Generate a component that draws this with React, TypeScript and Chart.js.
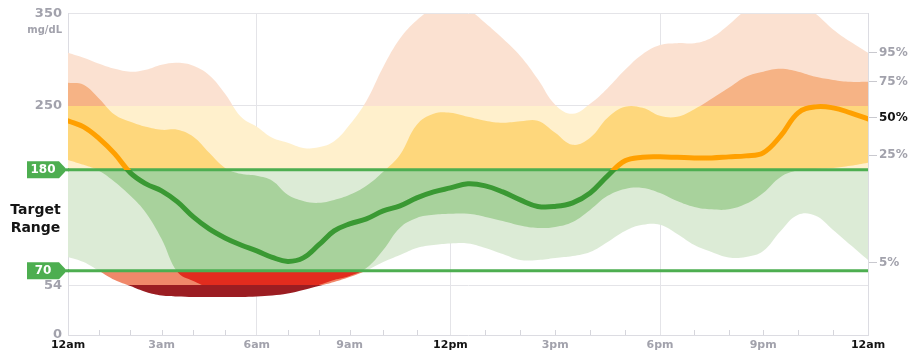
import React, { useEffect, useRef } from 'react';
import { Chart, LinearScale, registerables } from 'chart.js';

// ---------- data ----------
const hours = [0, 0.5, 1, 1.5, 2, 2.5, 3, 3.5, 4, 4.5, 5, 5.5, 6, 6.5, 7, 7.5, 8, 8.5, 9, 9.5, 10, 10.5, 11, 11.5, 12,
  12.5, 13, 13.5, 14, 14.5, 15, 15.5, 16, 16.5, 17, 17.5, 18, 18.5, 19, 19.5, 20, 20.5, 21, 21.5, 22, 22.5, 23, 23.5, 24];

const p95 = [307.5, 302, 295.5, 290, 286.8, 289, 294.4, 296.6, 293.3, 283, 262.8, 237.7, 226.8, 214.8, 209.4, 203.9, 204.5,
  211, 229, 255, 292, 323, 343, 356, 362, 355, 340, 323, 304, 279, 251, 241, 252, 269, 289, 306, 316, 318, 318, 324, 338,
  354, 363, 366, 362, 350, 333, 319.5, 307.5];

const p75 = [274.8, 272.6, 257.4, 239.9, 232.3, 226.8, 223.6, 223.6, 216, 198.5, 182.1, 175.6, 173.4, 168, 152.7, 146.1,
  144, 147.2, 152.7, 162.5, 177.8, 196.3, 229, 241, 242.1, 237.7, 233.4, 231.2, 232.8, 233.4, 220.3, 207.2, 214.8, 236.6,
  248.6, 247.5, 238.8, 237.7, 246, 257.4, 269.3, 281.3, 286.8, 290, 286.8, 281.3, 278, 275.9, 275.9];

const p50 = [233.4, 226.8, 214, 197.4, 176.7, 164.7, 157, 145, 128.7, 115.6, 105.8, 98.1, 91.6, 84.6, 80.2, 84, 98.1,
  113.4, 121.1, 126.5, 135.2, 140.7, 149.4, 155.9, 160.3, 164.7, 162.5, 155.9, 147.2, 140.1, 140.1, 144, 154.8, 173.4,
  189.8, 193.6, 194.1, 193.6, 193, 193, 194.1, 195.2, 198.5, 217, 242.1, 248.6, 247.5, 242.1, 235.5];

const p25 = [190.8, 185.4, 178.8, 166.8, 151.6, 133, 104.7, 68.7, 58.9, 52, 50, 49, 49, 49, 50, 51.5, 54.5, 60, 64.3, 73,
  92.7, 117, 127.6, 130.9, 132, 132, 128.7, 124.3, 119.4, 116.7, 117.8, 123.2, 136.3, 151.6, 159.2, 160.3, 154.8, 146.1,
  139.6, 136.9, 136.9, 142.9, 154.8, 172.3, 179.5, 181, 182, 184.3, 187.6];

const p5 = [85.1, 79.6, 69.8, 59.9, 53.4, 46.9, 43.1, 42, 41.4, 41.4, 41.4, 41.4, 42, 43.1, 45.2, 49, 53.4, 57.8, 63.2,
  70.3, 79.6, 87.2, 94.9, 98.1, 99.8, 99.8, 94.9, 88.3, 81.8, 81.8, 84, 86.1, 90.5, 101.4, 113.4, 120, 120, 110.1, 98.1,
  90.5, 84.5, 85.1, 91.6, 113.4, 131, 130, 114.5, 98.1, 81.8];

const targetRange = [70, 180];
const yTickValues = [0, 54, 250, 350];
const xTickHours = [0, 3, 6, 9, 12, 15, 18, 21, 24];
const xTickLabels = ['12am', '3am', '6am', '9am', '12pm', '3pm', '6pm', '9pm', '12am'];
const rightTickValues = [307.5, 276, 236.6, 196, 78.5];
const rightTickLabels = ['95%', '75%', '50%', '25%', '5%'];

// ---------- style ----------
const FONT = "'DejaVu Sans', Verdana, sans-serif";
const GRAY = '#a2a2ac';
const DARK = '#141414';
const TARGET_GREEN = '#4dae50';
const GRID = '#e4e4e8';
const BORDER = '#dcdce2';

const BAND_THRESHOLDS = [250, 180, 70, 54];
const LIGHT_COLORS = ['#fbe1d1', '#fff0cc', '#dcebd6', '#f0886a', '#9b1d22'];
const DARK_COLORS = ['#f6b385', '#fed77c', '#a8d29c', '#e22c1e', '#9b1d22'];
const LINE_THRESHOLDS = [180, 70];
const LINE_COLORS = ['#ffa000', '#3a9933', '#d32f2f'];
const TENSION = 0.4;

// hour axis of the source chart is slightly uneven; knots of its time scale
const HOUR_KNOTS = [0, 3, 6, 9, 12, 15, 18, 21, 24];
const FRAC_KNOTS = [0, 0.117, 0.236, 0.352, 0.478, 0.609, 0.74, 0.869, 1];

function piecewise(v: number, xs: number[], ys: number[]) {
  let i = 1;
  while (i < xs.length - 1 && v > xs[i]) i++;
  const x0 = xs[i - 1], x1 = xs[i];
  return ys[i - 1] + ((v - x0) / (x1 - x0)) * (ys[i] - ys[i - 1]);
}

class AgpHourScale extends LinearScale {
  static id = 'agpHour';
  static defaults = {};
  getPixelForValue(value: any) {
    if (value === null || value === undefined || isNaN(value)) return NaN;
    const f = piecewise(+value, HOUR_KNOTS, FRAC_KNOTS);
    return (this as any).left + f * (this as any).width;
  }
  getValueForPixel(pixel: number) {
    const f = (pixel - (this as any).left) / (this as any).width;
    return piecewise(f, FRAC_KNOTS, HOUR_KNOTS);
  }
}

Chart.register(...registerables, AgpHourScale as any);

function zoneGradient(chart: any, thresholds: number[], colors: string[]) {
  const { ctx, chartArea, scales } = chart;
  if (!chartArea || !scales || !scales.y) return colors[1];
  const top = chartArea.top;
  const bottom = chartArea.bottom;
  const g = ctx.createLinearGradient(0, top, 0, bottom);
  g.addColorStop(0, colors[0]);
  thresholds.forEach((t, i) => {
    let f = (scales.y.getPixelForValue(t) - top) / (bottom - top);
    f = Math.max(0, Math.min(1, f));
    g.addColorStop(f, colors[i]);
    g.addColorStop(f, colors[i + 1]);
  });
  g.addColorStop(1, colors[colors.length - 1]);
  return g;
}

const pts = (vals: number[]) => vals.map((y, i) => ({ x: hours[i], y }));

const decorPlugin = {
  id: 'agpDecor',
  afterDraw(chart: any) {
    const { ctx, chartArea, scales } = chart;
    const y = scales.y;
    const x = scales.x;
    ctx.save();
    // minor hour ticks (inward)
    ctx.strokeStyle = '#d6d6dc';
    ctx.lineWidth = 1;
    for (let h = 1; h < 24; h++) {
      if (h % 6 === 0) continue;
      const px = Math.round(x.getPixelForValue(h)) + 0.5;
      ctx.beginPath();
      ctx.moveTo(px, chartArea.bottom - 5);
      ctx.lineTo(px, chartArea.bottom);
      ctx.stroke();
    }
    // target range tags
    targetRange.forEach((v) => {
      const py = y.getPixelForValue(v);
      ctx.fillStyle = TARGET_GREEN;
      ctx.beginPath();
      ctx.moveTo(27, py - 8.5);
      ctx.lineTo(59, py - 8.5);
      ctx.lineTo(67, py);
      ctx.lineTo(59, py + 8.5);
      ctx.lineTo(27, py + 8.5);
      ctx.closePath();
      ctx.fill();
      ctx.fillRect(66, py - 1.5, chartArea.left - 66 + 1, 3);
      ctx.fillStyle = '#ffffff';
      ctx.font = `bold 12px ${FONT}`;
      ctx.textAlign = 'center';
      ctx.textBaseline = 'middle';
      ctx.fillText(String(v), 43, py + 0.5);
    });
    // "Target Range"
    const midY = (y.getPixelForValue(targetRange[0]) + y.getPixelForValue(targetRange[1])) / 2;
    ctx.fillStyle = DARK;
    ctx.font = `bold 14px ${FONT}`;
    ctx.textAlign = 'center';
    ctx.textBaseline = 'alphabetic';
    ctx.fillText('Target', 35.5, midY - 6);
    ctx.fillText('Range', 35.5, midY + 12);
    // unit
    ctx.fillStyle = GRAY;
    ctx.font = `bold 10px ${FONT}`;
    ctx.textAlign = 'right';
    ctx.textBaseline = 'middle';
    ctx.fillText('mg/dL', 62, y.getPixelForValue(350) + 16.5);
    ctx.restore();
  },
};

export default function App() {
  const ref = useRef<HTMLCanvasElement | null>(null);

  useEffect(() => {
    if (!ref.current) return;
    const noPoint = { pointRadius: 0, pointHoverRadius: 0, tension: TENSION };
    const chart = new Chart(ref.current, {
      type: 'line',
      data: {
        datasets: [
          {
            label: 'Median',
            data: pts(p50),
            borderColor: (c: any) => zoneGradient(c.chart, LINE_THRESHOLDS, LINE_COLORS),
            borderWidth: 5,
            borderCapStyle: 'round',
            borderJoinStyle: 'round',
            fill: false,
            ...noPoint,
          },
          {
            label: 'High target',
            data: [{ x: 0, y: targetRange[1] }, { x: 24, y: targetRange[1] }],
            borderColor: TARGET_GREEN,
            borderWidth: 3,
            fill: false,
            ...noPoint,
          },
          {
            label: 'Low target',
            data: [{ x: 0, y: targetRange[0] }, { x: 24, y: targetRange[0] }],
            borderColor: TARGET_GREEN,
            borderWidth: 3,
            fill: false,
            ...noPoint,
          },
          {
            label: '75%',
            data: pts(p75),
            borderWidth: 0,
            borderColor: 'rgba(0,0,0,0)',
            backgroundColor: (c: any) => zoneGradient(c.chart, BAND_THRESHOLDS, DARK_COLORS),
            fill: '+1',
            ...noPoint,
          },
          {
            label: '25%',
            data: pts(p25),
            borderWidth: 0,
            borderColor: 'rgba(0,0,0,0)',
            fill: false,
            ...noPoint,
          },
          {
            label: '95%',
            data: pts(p95),
            borderWidth: 0,
            borderColor: 'rgba(0,0,0,0)',
            backgroundColor: (c: any) => zoneGradient(c.chart, BAND_THRESHOLDS, LIGHT_COLORS),
            fill: '+1',
            ...noPoint,
          },
          {
            label: '5%',
            data: pts(p5),
            borderWidth: 0,
            borderColor: 'rgba(0,0,0,0)',
            fill: false,
            ...noPoint,
          },
        ],
      } as any,
      options: {
        animation: false,
        responsive: false,
        events: [],
        layout: { padding: { top: 13.5, left: 0, right: 0, bottom: 0 } },
        plugins: { legend: { display: false }, tooltip: { enabled: false } },
        scales: {
          x: {
            type: 'agpHour' as any,
            min: 0,
            max: 24,
            afterFit: (s: any) => { s.height = 29; },
            afterBuildTicks: (s: any) => { s.ticks = xTickHours.map((v) => ({ value: v })); },
            grid: {
              drawTicks: false,
              color: (c: any) => (c.tick && [6, 12, 18].includes(c.tick.value) ? GRID : 'rgba(0,0,0,0)'),
            },
            border: { display: true, color: BORDER },
            ticks: {
              autoSkip: false,
              maxRotation: 0,
              padding: 4,
              callback: (_v: any, i: number) => xTickLabels[i],
              color: (c: any) => (c.tick && c.tick.value % 12 === 0 ? DARK : GRAY),
              font: { family: FONT, size: 11, weight: 'bold' },
            },
          },
          y: {
            type: 'linear',
            position: 'left',
            min: 0,
            max: 350,
            afterFit: (s: any) => { s.width = 68; },
            afterBuildTicks: (s: any) => { s.ticks = yTickValues.map((v) => ({ value: v })); },
            grid: {
              drawTicks: false,
              color: (c: any) => (c.tick && c.tick.value === 0 ? 'rgba(0,0,0,0)' : GRID),
            },
            border: { display: true, color: BORDER },
            ticks: {
              autoSkip: false,
              padding: 6,
              color: GRAY,
              font: { family: FONT, size: 13, weight: 'bold' },
              callback: (v: any) => String(v),
            },
          },
          y2: {
            type: 'linear',
            position: 'right',
            min: 0,
            max: 350,
            afterFit: (s: any) => { s.width = 49; },
            afterBuildTicks: (s: any) => { s.ticks = rightTickValues.map((v) => ({ value: v })); },
            grid: { drawOnChartArea: false, drawTicks: true, tickLength: 9, color: '#c9c9cf' },
            border: { display: true, color: BORDER },
            ticks: {
              autoSkip: false,
              padding: 2,
              callback: (_v: any, i: number) => rightTickLabels[i],
              color: (c: any) => (c.index === 2 ? DARK : GRAY),
              font: { family: FONT, size: 12, weight: 'bold' },
            },
          },
        },
      } as any,
      plugins: [decorPlugin as any],
    });
    return () => chart.destroy();
  }, []);

  return (
    <div style={{ position: 'absolute', left: 0, top: 0, width: 917, height: 364 }}>
      <canvas ref={ref} width={917} height={364} style={{ display: 'block', width: 917, height: 364 }} />
    </div>
  );
}
